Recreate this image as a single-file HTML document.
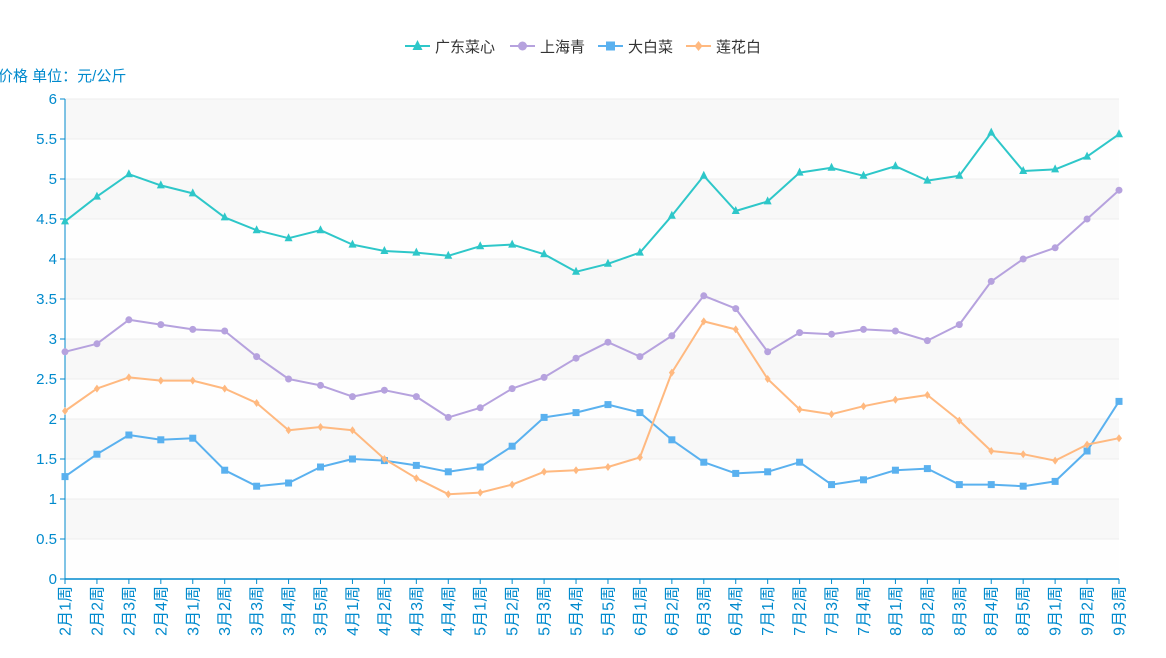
<!DOCTYPE html>
<html><head><meta charset="utf-8"><style>
body{margin:0;background:#fff;}
svg{display:block;font-family:"Liberation Sans","Noto Sans CJK SC",sans-serif;}
</style></head><body>
<svg id="c" width="1166" height="658" xmlns="http://www.w3.org/2000/svg"></svg>
<script>
const X0=65,X1=1119,Y0=579,S=80;
const labels=["2月1周","2月2周","2月3周","2月4周","3月1周","3月2周","3月3周","3月4周","3月5周","4月1周","4月2周","4月3周","4月4周","5月1周","5月2周","5月3周","5月4周","5月5周","6月1周","6月2周","6月3周","6月4周","7月1周","7月2周","7月3周","7月4周","8月1周","8月2周","8月3周","8月4周","8月5周","9月1周","9月2周","9月3周"];
const dx=(X1-X0)/(labels.length-1);
const series=[
{c:"#2ec7c9",m:"tri",d:[4.47,4.78,5.06,4.92,4.82,4.52,4.36,4.26,4.36,4.18,4.10,4.08,4.04,4.16,4.18,4.06,3.84,3.94,4.08,4.54,5.04,4.60,4.72,5.08,5.14,5.04,5.16,4.98,5.04,5.58,5.10,5.12,5.28,5.56]},
{c:"#b6a2de",m:"cir",d:[2.84,2.94,3.24,3.18,3.12,3.10,2.78,2.50,2.42,2.28,2.36,2.28,2.02,2.14,2.38,2.52,2.76,2.96,2.78,3.04,3.54,3.38,2.84,3.08,3.06,3.12,3.10,2.98,3.18,3.72,4.00,4.14,4.50,4.86]},
{c:"#5ab1ef",m:"sq",d:[1.28,1.56,1.80,1.74,1.76,1.36,1.16,1.20,1.40,1.50,1.48,1.42,1.34,1.40,1.66,2.02,2.08,2.18,2.08,1.74,1.46,1.32,1.34,1.46,1.18,1.24,1.36,1.38,1.18,1.18,1.16,1.22,1.60,2.22]},
{c:"#ffb980",m:"dia",d:[2.10,2.38,2.52,2.48,2.48,2.38,2.20,1.86,1.90,1.86,1.50,1.26,1.06,1.08,1.18,1.34,1.36,1.40,1.52,2.58,3.22,3.12,2.50,2.12,2.06,2.16,2.24,2.30,1.98,1.60,1.56,1.48,1.68,1.76]}];
function mk(t,x,y,c,r){r=r||4;
 if(t=="tri")return `<path d="M${x},${y-r-1}L${x+r},${y+r-1}L${x-r},${y+r-1}Z" fill="${c}"/>`;
 if(t=="cir")return `<circle cx="${x}" cy="${y}" r="${r-0.5}" fill="${c}"/>`;
 if(t=="sq")return `<rect x="${x-r+0.5}" y="${y-r+0.5}" width="${2*r-1}" height="${2*r-1}" fill="${c}"/>`;
 return `<path d="M${x},${y-r}L${x+r-1},${y}L${x},${y+r}L${x-r+1},${y}Z" fill="${c}"/>`;}
let h="";
for(let i=0;i<12;i++){const y=Y0-(i+1)*40;h+=`<rect x="${X0}" y="${y}" width="${X1-X0}" height="40" fill="${i%2?'#f8f8f8':'#fefefe'}"/>`;}
for(let i=1;i<=12;i++){const y=Y0-i*40;h+=`<line x1="${X0}" x2="${X1}" y1="${y}" y2="${y}" stroke="#eeeeee"/>`;}
for(let i=0;i<=12;i++){const y=Y0-i*40;h+=`<line x1="${X0-5}" x2="${X0}" y1="${y}" y2="${y}" stroke="#008acd"/><text x="${X0-8}" y="${y+5}" text-anchor="end" font-size="15" fill="#008acd">${i/2}</text>`;}
h+=`<line x1="${X0}" x2="${X0}" y1="${Y0-480}" y2="${Y0}" stroke="#008acd" stroke-width="1"/>`;
h+=`<line x1="${X0}" x2="${X1}" y1="${Y0}" y2="${Y0}" stroke="#008acd" stroke-width="1.5"/>`;
labels.forEach((l,i)=>{const x=X0+i*dx;h+=`<line x1="${x}" x2="${x}" y1="${Y0}" y2="${Y0+5}" stroke="#008acd"/><text transform="translate(${x+5.5},${Y0+7}) rotate(-90)" text-anchor="end" font-size="16" fill="#008acd">${l}</text>`;});
h+=`<text x="-2" y="81" font-size="15" fill="#008acd">价格 单位：元/公斤</text>`;
series.forEach(s=>{const p=s.d.map((v,i)=>`${(X0+i*dx).toFixed(1)},${(Y0-v*S).toFixed(1)}`).join(" ");
 h+=`<polyline points="${p}" fill="none" stroke="${s.c}" stroke-width="2" stroke-linejoin="round"/>`;
 s.d.forEach((v,i)=>h+=mk(s.m,X0+i*dx,Y0-v*S,s.c));});
const leg=[["广东菜心",405],["上海青",510],["大白菜",598],["莲花白",686]];
leg.forEach((l,i)=>{const s=series[i];h+=`<line x1="${l[1]}" x2="${l[1]+25}" y1="46" y2="46" stroke="${s.c}" stroke-width="2"/>`+mk(s.m,l[1]+12.5,46,s.c,5)+`<text x="${l[1]+30}" y="52" font-size="15" fill="#333">${l[0]}</text>`;});
document.getElementById("c").innerHTML=h;
</script>
</body></html>
